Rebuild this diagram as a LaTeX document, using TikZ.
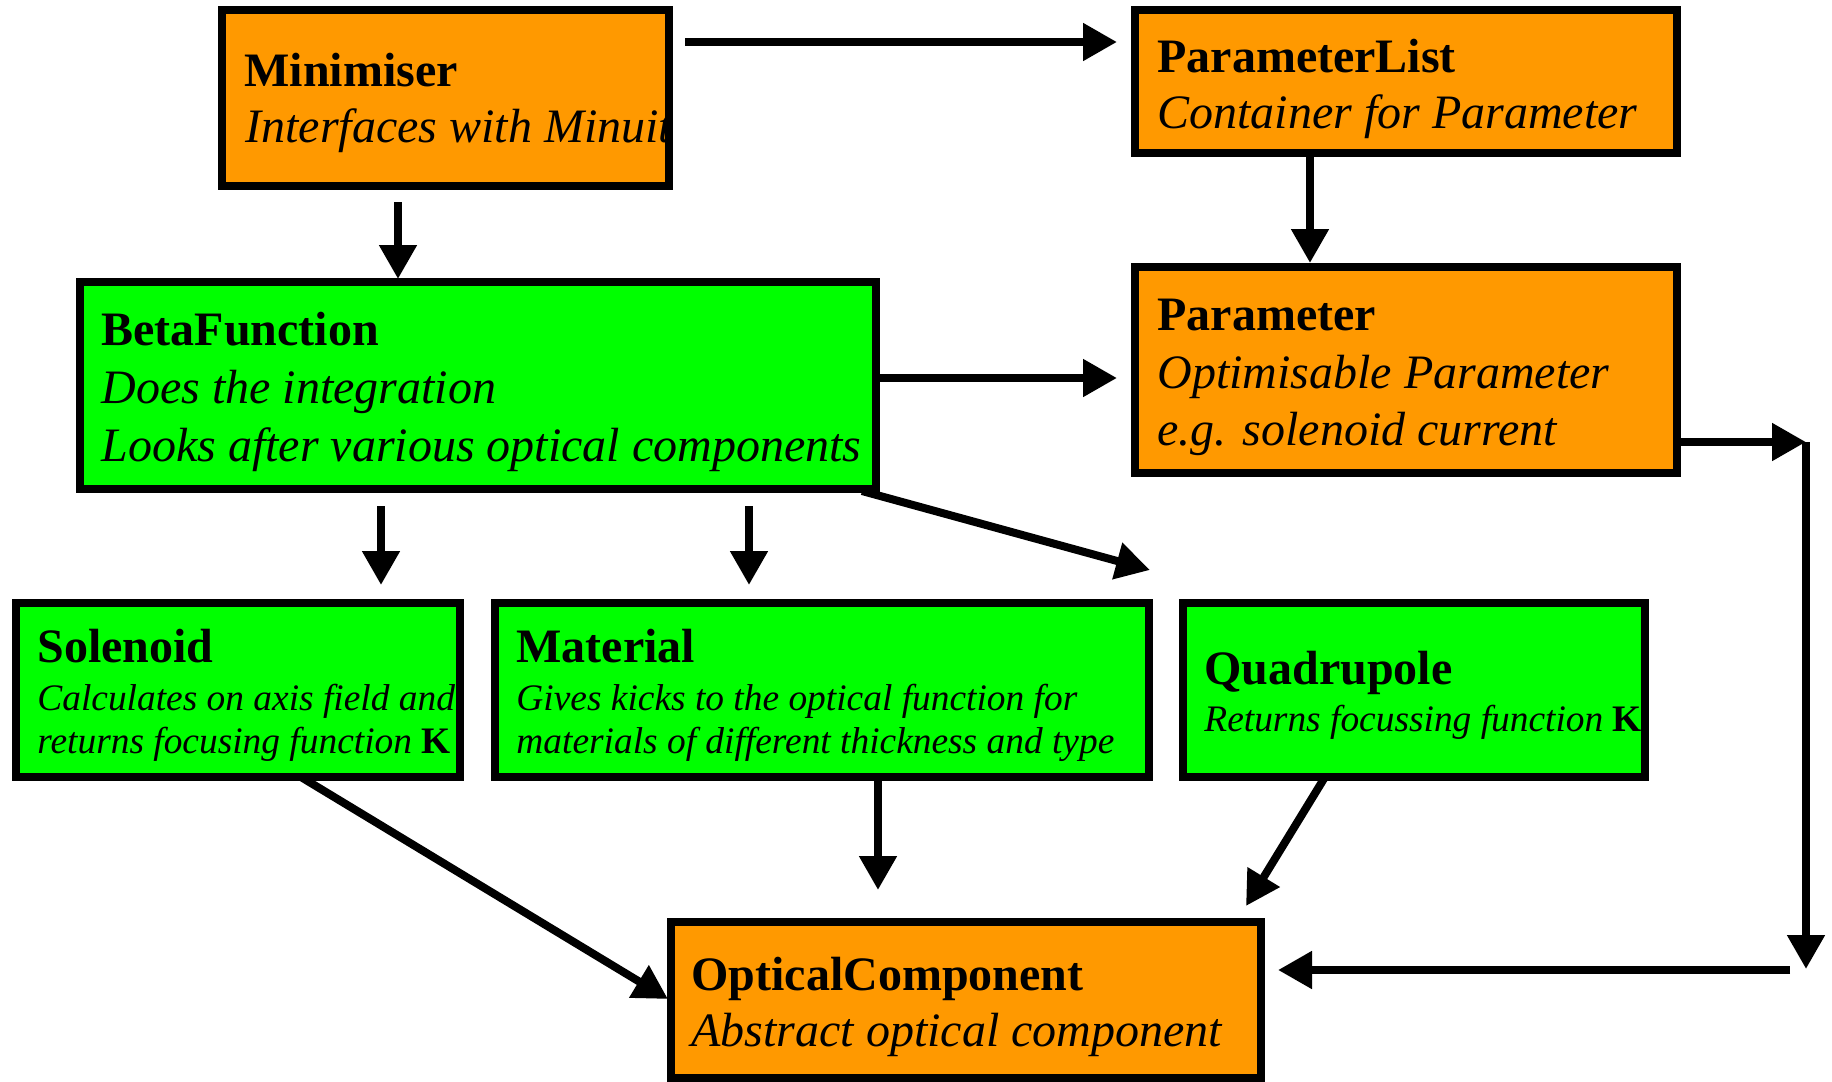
\documentclass[tikz,border=0pt]{standalone}
\usepackage{fontspec}
\setmainfont{Liberation Serif}
\usetikzlibrary{arrows.meta,calc}
\definecolor{boxorange}{RGB}{255,153,0}
\definecolor{boxgreen}{RGB}{0,255,0}
\begin{document}
\begin{tikzpicture}[x=0.5pt,y=-0.5pt,
  box/.style={draw=black, line width=3.8pt, rectangle, inner sep=0pt, outer sep=0pt, anchor=north west},
  obox/.style={box, fill=boxorange},
  gbox/.style={box, fill=boxgreen},
  ttl/.style={anchor=base west, inner sep=0pt, font=\fontsize{24}{28}\selectfont\bfseries},
  dsc/.style={anchor=base west, inner sep=0pt, font=\fontsize{24}{28}\selectfont\itshape},
  sdsc/.style={anchor=base west, inner sep=0pt, font=\fontsize{18.7}{22}\selectfont\itshape},
  arr/.style={line width=4pt, -{Triangle[length=17pt,width=18pt]}},
]
\useasboundingbox (0,0) rectangle (1832,1082);

% boxes
\node[obox, minimum width=223.5pt, minimum height=88pt] (min) at (222,10) {};
\node[obox, minimum width=271pt, minimum height=71.5pt] (plist) at (1135,10) {};
\node[obox, minimum width=271pt, minimum height=103pt] (param) at (1135,267) {};
\node[gbox, minimum width=398pt, minimum height=103.5pt] (beta) at (80,282) {};
\node[gbox, minimum width=222pt, minimum height=87pt] (sol) at (16,603) {};
\node[gbox, minimum width=327pt, minimum height=87pt] (mat) at (495,603) {};
\node[gbox, minimum width=231pt, minimum height=87pt] (quad) at (1183,603) {};
\node[obox, minimum width=295pt, minimum height=78pt] (opt) at (671,922) {};

% texts
\node[ttl] (minT) at (244,86) {Minimiser};
\begin{scope}
\clip (min.south west) rectangle ($(min.north east)+(-5,0)$);
\node[dsc] (minD) at (245,142) {Interfaces with Minuit};
\end{scope}
\node[ttl] (plistT) at (1157,72) {ParameterList};
\node[dsc] (plistD) at (1157,128) {Container for Parameter};
\node[ttl] (paramT) at (1157,330) {Parameter};
\node[dsc] (paramD1) at (1157,388) {Optimisable Parameter};
\node[dsc] (paramD2) at (1157,445) {e.g. solenoid current};
\node[ttl] (betaT) at (101,345) {BetaFunction};
\node[dsc] (betaD1) at (101,403) {Does the integration};
\node[dsc] (betaD2) at (101,461) {Looks after various optical components};
\node[ttl] (solT) at (37,662) {Solenoid};
\node[sdsc] (solD1) at (37,710) {Calculates on axis field and};
\node[sdsc] (solD2) at (37,753) {returns focusing function \textbf{\upshape K}};
\node[ttl] (matT) at (516,662) {Material};
\node[sdsc] (matD1) at (516,710) {Gives kicks to the optical function for};
\node[sdsc] (matD2) at (516,753) {materials of different thickness and type};
\node[ttl] (quadT) at (1204,684) {Quadrupole};
\node[sdsc] (quadD) at (1204,731) {Returns focussing function \textbf{\upshape K}};
\node[ttl] (optT) at (691,990) {OpticalComponent};
\node[dsc] (optD) at (691,1046) {Abstract optical component};

% connector coordinates
\coordinate (aS) at ($(min.north east)+(16,32)$);
\coordinate (bS) at ($(min.south west)+(176,16)$);
\coordinate (cS) at ($(plist.south west)+(175,0)$);
\coordinate (dS) at ($(beta.north east)+(0,96)$);
\coordinate (eS) at ($(param.north east)+(0,175)$);
\coordinate (c1) at ($(eS)+(129,0)$);
\coordinate (c2) at (1806,969);
\coordinate (c3) at (1790,970);
\coordinate (hS) at ($(beta.south west)+(301,17)$);
\coordinate (iS) at ($(beta.south west)+(669,17)$);
\coordinate (jS) at ($(beta.south east)+(-14,2)$);
\coordinate (jE) at ($(quad.north west)+(-33,-33)$);
\coordinate (kS) at ($(sol.south west)+(285,0)$);
\coordinate (kE) at ($(opt.north west)+(-3,77)$);
\coordinate (lS) at ($(mat.south west)+(383,0)$);
\coordinate (mS) at ($(quad.south west)+(142,0)$);
\coordinate (mE) at ($(opt.north east)+(-15,-16)$);

% connectors
\draw[arr, shorten >=9pt] (aS) -- (aS -| plist.west);
\draw[arr, shorten >=1.5pt] (bS) -- (bS |- beta.north);
\draw[arr, shorten >=2pt] (cS) -- (cS |- param.north);
\draw[arr, shorten >=9pt] (dS) -- (dS -| param.west);
\draw[arr] (eS) -- (c1);
\draw[arr] (c1) -- (c2);
\draw[arr, shorten >=8.5pt] (c3) -- (c3 -| opt.east);
\draw[arr, shorten >=9pt] (hS) -- (hS |- sol.north);
\draw[arr, shorten >=9pt] (iS) -- (iS |- mat.north);
\draw[arr] (jS) -- (jE);
\draw[arr] (kS) -- (kE);
\draw[arr, shorten >=16pt] (lS) -- (lS |- opt.north);
\draw[arr] (mS) -- (mE);
\end{tikzpicture}
\end{document}
